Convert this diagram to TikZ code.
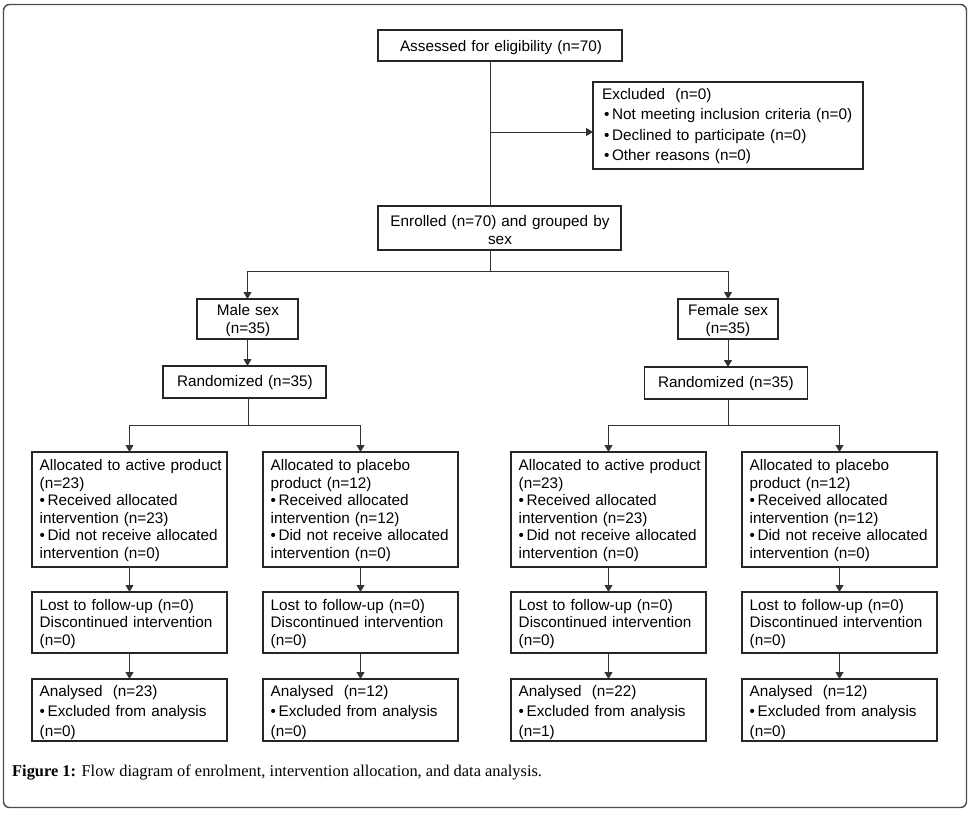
\documentclass[tikz,border=0pt]{standalone}
\usepackage{fontspec}
\setmainfont{Liberation Sans}
\newfontfamily\capfont{Liberation Serif}
\usetikzlibrary{arrows.meta}
\newcommand\bul{\textbullet\hspace{2.5pt}}
\begin{document}
\begin{tikzpicture}[x=1pt,y=-1pt,
  box/.style={draw=black!85, line width=1.6pt, inner sep=0pt, outer sep=0pt},
  txt/.style={inner sep=0pt, font=\fontsize{15.3}{17.5}\selectfont, align=left, text width=200pt, anchor=base west},
  wtxt/.style={inner sep=0pt, font=\fontsize{15.3}{20.3}\selectfont, align=left, text width=260pt, anchor=base west},
  ctxt/.style={inner sep=0pt, font=\fontsize{15.3}{18}\selectfont, align=center, text width=260pt, anchor=base},
  conn/.style={draw=black!80, line width=1pt},
  arr/.style={conn, -{Triangle[length=7pt,width=8pt]}}]
\useasboundingbox (0,0) rectangle (970,812);
\draw[black!70, line width=1.4pt, rounded corners=6pt] (3.5,4.5) rectangle (966.5,807.5);

% boxes
\node[box, minimum width=244pt, minimum height=31pt] (assess) at (500,45.5) {};
\node[box, minimum width=270pt, minimum height=87pt] (excl) at (728,125.5) {};
\node[box, minimum width=243pt, minimum height=44pt] (enrol) at (499.5,228) {};
\node[box, minimum width=101pt, minimum height=40pt] (male) at (247.5,319) {};
\node[box, minimum width=100pt, minimum height=40pt] (female) at (728,319) {};
\node[box, minimum width=163pt, minimum height=32pt] (randM) at (244.5,382) {};
\node[box, minimum width=163pt, minimum height=32pt] (randF) at (726,383) {};
\foreach \n/\x in {1/129.5, 2/360.5, 3/608.5, 4/839.5}{
  \node[box, minimum width=195pt, minimum height=115pt] (a\n) at (\x,509.5) {};
  \node[box, minimum width=195pt, minimum height=61pt] (l\n) at (\x,622.5) {};
  \node[box, minimum width=195pt, minimum height=62pt] (n\n) at (\x,710) {};
}

% texts
\node[ctxt] (assessT) at (501,51.5) {Assessed for eligibility (n=70)};
\node[wtxt] (exclT) at (602,99.5) {Excluded\ \ (n=0)\\
\hspace*{2pt}\bul Not meeting inclusion criteria (n=0)\\
\hspace*{2pt}\bul Declined to participate (n=0)\\
\hspace*{2pt}\bul Other reasons (n=0)};
\node[ctxt] (enrolT) at (500,226.5) {Enrolled (n=70) and grouped by\\sex};
\node[ctxt] (maleT) at (248,315) {Male sex\\(n=35)};
\node[ctxt] (femaleT) at (728,315) {Female sex\\(n=35)};
\node[ctxt] (randMT) at (245,386.7) {Randomized (n=35)};
\node[ctxt] (randFT) at (726,387.2) {Randomized (n=35)};

\node[txt] (a1T) at (39.5,470.7) {Allocated to active product\\(n=23)\\\bul Received allocated\\intervention (n=23)\\\bul Did not receive allocated\\intervention (n=0)};
\node[txt] (a2T) at (270.5,470.7) {Allocated to placebo\\product (n=12)\\\bul Received allocated\\intervention (n=12)\\\bul Did not receive allocated\\intervention (n=0)};
\node[txt] (a3T) at (518.5,470.7) {Allocated to active product\\(n=23)\\\bul Received allocated\\intervention (n=23)\\\bul Did not receive allocated\\intervention (n=0)};
\node[txt] (a4T) at (749.5,470.7) {Allocated to placebo\\product (n=12)\\\bul Received allocated\\intervention (n=12)\\\bul Did not receive allocated\\intervention (n=0)};

\foreach \n/\x in {1/39.5, 2/270.5, 3/518.5, 4/749.5}{
  \node[txt, font=\fontsize{15.3}{17.8}\selectfont] (l\n T) at (\x,610) {Lost to follow-up (n=0)\\Discontinued intervention\\(n=0)};
}
\node[txt, font=\fontsize{15.3}{20}\selectfont] (n1T) at (39.5,696.7) {Analysed\ \ (n=23)\\\bul Excluded from analysis\\(n=0)};
\node[txt, font=\fontsize{15.3}{20}\selectfont] (n2T) at (270.5,696.7) {Analysed\ \ (n=12)\\\bul Excluded from analysis\\(n=0)};
\node[txt, font=\fontsize{15.3}{20}\selectfont] (n3T) at (518.5,696.7) {Analysed\ \ (n=22)\\\bul Excluded from analysis\\(n=1)};
\node[txt, font=\fontsize{15.3}{20}\selectfont] (n4T) at (749.5,696.7) {Analysed\ \ (n=12)\\\bul Excluded from analysis\\(n=0)};

% caption
\node[anchor=base west, inner sep=0pt, font=\capfont\fontsize{16.4}{19}\selectfont] (cap) at (12,776) {\textbf{Figure 1:} Flow diagram of enrolment, intervention allocation, and data analysis.};

% connectors
\coordinate (trunk) at (490,0);
\coordinate (exs) at (490,132);
\coordinate (s1) at (490,271);
\coordinate (s2) at (248,425);
\coordinate (s3) at (728,425);
\draw[conn] (assess.south -| trunk) -- (enrol.north -| trunk);
\draw[arr] (exs) -- (exs -| excl.west);
\draw[conn] (enrol.south -| s1) -- (s1);
\draw[arr] (s1) -| (male.north);
\draw[arr] (s1) -| (female.north);
\draw[arr] (male.south) -- (male.south |- randM.north);
\draw[arr] (female.south) -- (female.south |- randF.north);
\draw[conn] (s2 |- randM.south) -- (s2);
\draw[conn] (s3 |- randF.south) -- (s3);
\draw[arr] (s2) -| (a1.north);
\draw[arr] (s2) -| (a2.north);
\draw[arr] (s3) -| (a3.north);
\draw[arr] (s3) -| (a4.north);
\foreach \n in {1,2,3,4}{
  \draw[arr] (a\n.south) -- (l\n.north);
  \draw[arr] (l\n.south) -- (n\n.north);
}
\end{tikzpicture}
\end{document}
